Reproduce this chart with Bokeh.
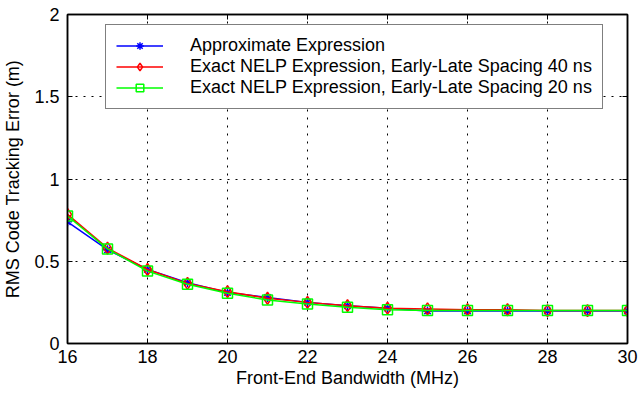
from bokeh.plotting import figure
from bokeh.models import (ColumnDataSource, FixedTicker, LinearAxis, Legend,
                          LegendItem, Range1d)
from bokeh.embed import file_html
from bokeh.resources import INLINE

bandwidth = [16, 17, 18, 19, 20, 21, 22, 23, 24, 25, 26, 27, 28, 29, 30]
approx_expr = [0.74, 0.57, 0.45, 0.37, 0.31, 0.28, 0.25, 0.23, 0.215, 0.198,
               0.198, 0.198, 0.198, 0.198, 0.198]
exact_40ns = [0.785, 0.58, 0.45, 0.365, 0.315, 0.275, 0.25, 0.23, 0.215, 0.21,
              0.205, 0.205, 0.2, 0.2, 0.2]
exact_20ns = [0.775, 0.575, 0.44, 0.36, 0.305, 0.265, 0.24, 0.22, 0.205, 0.2,
              0.2, 0.2, 0.2, 0.2, 0.2]

series_labels = ["Approximate Expression",
                 "Exact NELP Expression, Early-Late Spacing 40 ns",
                 "Exact NELP Expression, Early-Late Spacing 20 ns"]
x_ticks = [16, 18, 20, 22, 24, 26, 28, 30]
y_ticks = [0, 0.5, 1, 1.5, 2]
y_tick_labels = ["0", "0.5", "1", "1.5", "2"]

FONT = "Liberation Sans"
FS = "18px"

p = figure(width=638, height=394, output_backend="svg", toolbar_location=None,
           x_range=Range1d(16, 30), y_range=Range1d(0, 2),
           min_border_left=66, min_border_right=11, min_border_top=14,
           min_border_bottom=51)
p.background_fill_color = "white"
p.border_fill_color = "white"
p.outline_line_color = "black"
p.outline_line_width = 1.5

src = ColumnDataSource(dict(x=bandwidth, a=approx_expr, e40=exact_40ns, e20=exact_20ns))

l1 = p.line("x", "a", source=src, line_color="#0000ff", line_width=1.5)
m1 = p.scatter("x", "a", source=src, marker="asterisk", size=9,
               line_color="#0000ff", line_width=1.5)
l2 = p.line("x", "e40", source=src, line_color="#ff0000", line_width=1.5)
m2 = p.scatter("x", "e40", source=src, marker="diamond", size=12,
               line_color="#ff0000", fill_color=None, line_width=1.5)
l3 = p.line("x", "e20", source=src, line_color="#00ff00", line_width=1.5)
m3 = p.scatter("x", "e20", source=src, marker="square", size=10,
               line_color="#00ff00", fill_color=None, line_width=1.5)

# axes
p.xaxis.ticker = FixedTicker(ticks=x_ticks)
p.yaxis.ticker = FixedTicker(ticks=y_ticks)
p.yaxis.major_label_overrides = {t: s for t, s in zip(y_ticks, y_tick_labels)}
p.xaxis.axis_label = "Front-End Bandwidth (MHz)"
p.yaxis.axis_label = "RMS Code Tracking Error (m)"
for ax in (p.xaxis[0], p.yaxis[0]):
    ax.major_tick_in = 5
    ax.major_tick_out = 0
    ax.minor_tick_in = 0
    ax.minor_tick_out = 0
    ax.axis_line_color = "black"
    ax.axis_line_width = 1.5
    ax.major_tick_line_color = "black"
    ax.major_label_text_font = FONT
    ax.major_label_text_font_size = FS
    ax.major_label_text_color = "black"
    ax.axis_label_text_font = FONT
    ax.axis_label_text_font_size = FS
    ax.axis_label_text_font_style = "normal"
    ax.axis_label_text_color = "black"
p.xaxis.major_label_standoff = 6
p.xaxis.axis_label_standoff = 2
p.yaxis.major_label_standoff = 8
p.yaxis.axis_label_standoff = 8

top = LinearAxis(ticker=FixedTicker(ticks=x_ticks),
                 major_label_overrides={t: "" for t in x_ticks},
                 major_tick_in=5, major_tick_out=0, minor_tick_in=0, minor_tick_out=0,
                 major_label_standoff=0, axis_line_width=1.5)
right = LinearAxis(ticker=FixedTicker(ticks=y_ticks),
                   major_label_overrides={t: "" for t in y_ticks},
                   major_tick_in=5, major_tick_out=0, minor_tick_in=0, minor_tick_out=0,
                   major_label_standoff=0, axis_line_width=1.5)
p.add_layout(top, "above")
p.add_layout(right, "right")

# grid
for g in (p.xgrid[0], p.ygrid[0]):
    g.grid_line_color = "black"
    g.grid_line_dash = "2 6"
    g.grid_line_width = 1
p.xgrid.ticker = FixedTicker(ticks=x_ticks)
p.ygrid.ticker = FixedTicker(ticks=y_ticks)

legend = Legend(items=[LegendItem(label=series_labels[0], renderers=[l1, m1]),
                       LegendItem(label=series_labels[1], renderers=[l2, m2]),
                       LegendItem(label=series_labels[2], renderers=[l3, m3])],
                location=(38, 234))
legend.label_text_font = FONT
legend.label_text_font_size = FS
legend.label_text_color = "black"
legend.glyph_width = 47
legend.glyph_height = 19
legend.label_height = 19
legend.label_standoff = 27
legend.spacing = 0
legend.padding = 10
legend.margin = 0
legend.border_line_color = "black"
legend.border_line_width = 1
legend.background_fill_color = "white"
legend.background_fill_alpha = 1
p.add_layout(legend)

open("out.html", "w").write(file_html(p, INLINE))
